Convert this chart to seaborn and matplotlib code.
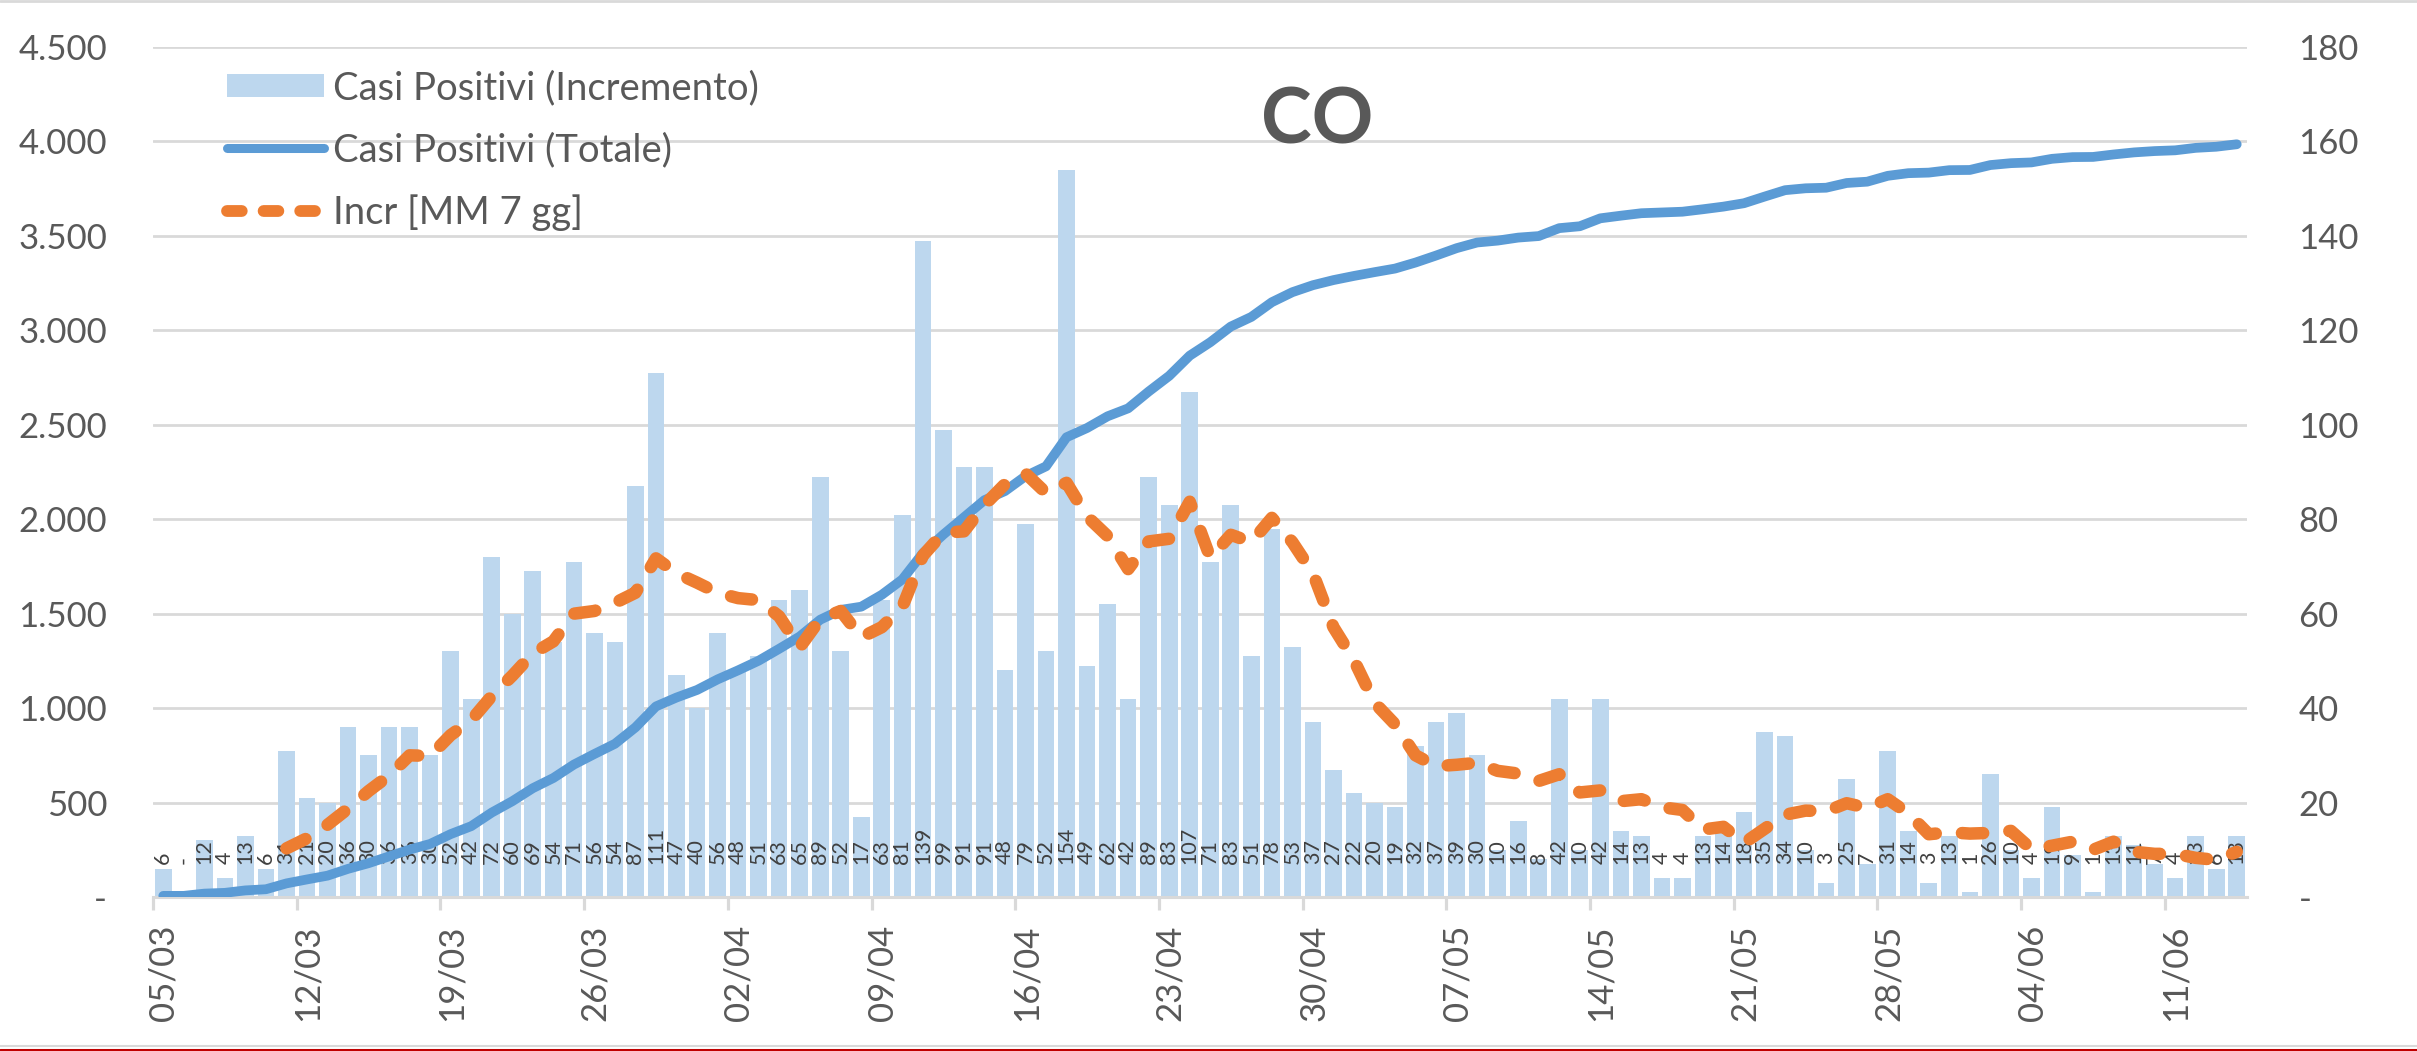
import matplotlib
matplotlib.use("Agg")
import matplotlib.pyplot as plt
import matplotlib.transforms as mtransforms
from matplotlib.lines import Line2D
from matplotlib.patches import Patch
from matplotlib.ticker import FuncFormatter
import seaborn as sns
import numpy as np

# Daily new positive cases, 05/03 -> 14/06
incremento = [
    6, 0, 12, 4, 13, 6, 31, 21, 20, 36, 30, 36, 36, 30,
    52, 42, 72, 60, 69, 54, 71,
    56, 54, 87, 111, 47, 40, 56,
    48, 51, 63, 65, 89, 52, 17,
    63, 81, 139, 99, 91, 91, 48,
    79, 52, 154, 49, 62, 42, 89,
    83, 107, 71, 83, 51, 78, 53,
    37, 27, 22, 20, 19, 32, 37,
    39, 30, 10, 16, 8, 42, 10,
    42, 14, 13, 4, 4, 13, 14,
    18, 35, 34, 10, 3, 25, 7,
    31, 14, 3, 13, 1, 26, 10,
    4, 19, 9, 1, 13, 11, 7,
    4, 13, 6, 13,
]

# Running total of positive cases
totale = [
    6, 6, 18, 22, 35, 41, 72, 93, 113, 149, 179, 215, 251, 281,
    333, 375, 447, 507, 576, 630, 701,
    757, 811, 898, 1009, 1056, 1096, 1152,
    1200, 1251, 1314, 1379, 1468, 1520, 1537,
    1600, 1681, 1820, 1919, 2010, 2101, 2149,
    2228, 2280, 2434, 2483, 2545, 2587, 2676,
    2759, 2866, 2937, 3020, 3071, 3149, 3202,
    3239, 3266, 3288, 3308, 3327, 3359, 3396,
    3435, 3465, 3475, 3491, 3499, 3541, 3551,
    3593, 3607, 3620, 3624, 3628, 3641, 3655,
    3673, 3708, 3742, 3752, 3755, 3780, 3787,
    3818, 3832, 3835, 3848, 3849, 3875, 3885,
    3889, 3908, 3917, 3918, 3931, 3942, 3949,
    3953, 3966, 3972, 3985,
]

# 7-day moving average of the daily increments (from 11/03)
media_mobile = [
    10.29, 12.43, 15.29, 18.71, 22.43, 25.71, 30.00, 29.86,
    34.29, 37.43, 42.57, 46.86, 51.57, 54.14, 60.00,
    60.57, 62.29, 64.43, 71.71, 68.57, 66.57, 64.43,
    63.29, 62.86, 59.43, 52.86, 58.86, 60.57, 55.00,
    57.14, 61.43, 72.29, 77.14, 77.43, 83.00, 87.43,
    89.71, 85.57, 87.71, 80.57, 76.43, 69.43, 75.29,
    75.86, 83.71, 71.86, 76.71, 75.14, 80.29, 75.14,
    68.57, 57.14, 50.14, 41.14, 36.57, 30.00, 27.71,
    28.00, 28.43, 26.71, 26.14, 24.57, 26.00, 22.14,
    22.57, 20.29, 20.71, 19.00, 18.43, 14.29, 14.86,
    11.43, 14.43, 17.43, 18.29, 18.14, 19.86, 18.86,
    20.71, 17.71, 13.29, 13.71, 13.43, 13.57, 14.00,
    10.14, 10.86, 11.71, 10.00, 11.71, 9.57, 9.14,
    9.14, 8.29, 7.86, 9.57,
]

date_ticks = ["05/03", "12/03", "19/03", "26/03", "02/04", "09/04", "16/04",
              "23/04", "30/04", "07/05", "14/05", "21/05", "28/05", "04/06", "11/06"]

serie = ["Casi Positivi (Incremento)", "Casi Positivi (Totale)", "Incr [MM 7 gg]"]
titolo = "CO"

BAR_C = "#BDD7EE"
TOT_C = "#5B9BD5"
MM_C = "#ED7D31"
TXT_C = "#595959"
GRID_C = "#D9D9D9"

sns.set_theme(style="white")
plt.rcParams["font.family"] = ["Lato", "DejaVu Sans"]

W, H = 2417, 1051
fig = plt.figure(figsize=(W / 100, H / 100), dpi=100)
fig.patch.set_facecolor("white")

x0, x1, y_top, y_bot = 153, 2247, 47, 897
ax = fig.add_axes([x0 / W, 1 - y_bot / H, (x1 - x0) / W, (y_bot - y_top) / H])
axL = ax.twinx()   # running total, left-hand scale
axM = ax.twinx()   # moving average, drawn on top

n = len(incremento)
giorni = np.arange(n)

# Daily bars on the right-hand scale
sns.barplot(x=giorni, y=incremento, ax=ax, color=BAR_C, saturation=1,
            width=0.81, linewidth=0, errorbar=None, zorder=2)
ax.set_ylim(0, 180)
ax.set_xlim(-0.5, n - 0.5)
ax.set_yticks(range(0, 181, 20))
ax.yaxis.tick_right()
ax.yaxis.set_label_position("right")
ax.yaxis.set_major_formatter(FuncFormatter(lambda v, p: "-" if v == 0 else f"{int(v)}"))
ax.tick_params(axis="y", which="both", left=False, right=False, labelleft=False,
               labelright=True, length=0, pad=37, labelsize=25, labelcolor=TXT_C)
for lab in ax.get_yticklabels():
    lab.set_horizontalalignment("left")
ax.grid(axis="y", color=GRID_C, linewidth=2)
ax.grid(axis="x", visible=False)
ax.set_axisbelow(True)
ax.set_xlabel("")
ax.set_ylabel("")
for s in ["top", "left", "right"]:
    ax.spines[s].set_visible(False)
ax.spines["bottom"].set_color(GRID_C)
ax.spines["bottom"].set_linewidth(2.2)

# Weekly date ticks on the bar boundaries
ax.set_xticks(np.arange(-0.5, n - 0.5, 7)[:len(date_ticks)])
ax.set_xticklabels(date_ticks, rotation=90)
ax.tick_params(axis="x", length=9, width=2.3, color=GRID_C, pad=11,
               labelsize=25, labelcolor=TXT_C, bottom=True)
shift = mtransforms.ScaledTranslation(11 / 100, 0, fig.dpi_scale_trans)
for lab in ax.get_xticklabels():
    lab.set_transform(lab.get_transform() + shift)

# Value labels at the base of each bar
for i, v in enumerate(incremento):
    ax.annotate("-" if v == 0 else str(v), xy=(i, 0), xytext=(0, 24),
                textcoords="offset points", rotation=90, ha="center", va="bottom",
                fontsize=15.5, color="#404040", zorder=3)

# Running total on the left-hand scale
sns.lineplot(x=giorni, y=totale, ax=axL, color=TOT_C, linewidth=7,
             solid_capstyle="round", legend=False)
axL.set_ylim(0, 4500)
axL.set_yticks(range(0, 4501, 500))
axL.yaxis.tick_left()
axL.yaxis.set_label_position("left")
axL.yaxis.set_major_formatter(FuncFormatter(
    lambda v, p: "-" if v == 0 else f"{int(v):,}".replace(",", ".")))
axL.tick_params(axis="y", which="both", left=False, right=False, labelleft=True,
                labelright=False, length=0, pad=33, labelsize=25, labelcolor=TXT_C)
axL.set_ylabel("")
axL.grid(False)
for s in axL.spines.values():
    s.set_visible(False)

# Moving average, right-hand scale
sns.lineplot(x=giorni[n - len(media_mobile):], y=media_mobile, ax=axM, color=MM_C,
             linewidth=9, legend=False)
axM.set_ylim(0, 180)
axM.axis("off")
mm_line = axM.lines[0]
mm_line.set_linestyle((0, (1.7, 2.1)))
mm_line.set_dash_capstyle("round")
mm_line.set_solid_capstyle("round")
ax.set_xlim(-0.5, n - 0.5)

# Title
fig.text(1317 / W, 1 - 143 / H, titolo, fontsize=55, fontweight="bold",
         ha="center", va="baseline", color=TXT_C)

# Legend
handles = [
    Patch(facecolor=BAR_C, edgecolor="none"),
    Line2D([], [], color=TOT_C, linewidth=6.5, solid_capstyle="round"),
    Line2D([], [], color=MM_C, linewidth=8.5, linestyle=(0, (1.25, 1.85)),
           dash_capstyle="round"),
]
fig.legend(handles, serie, loc="upper left", bbox_to_anchor=(227 / W, 1 - 70 / H),
           frameon=False, fontsize=27.5, handlelength=2.55, handleheight=0.55,
           handletextpad=0.22, labelspacing=0.68, borderpad=0, borderaxespad=0,
           labelcolor=TXT_C)

# Frame lines at the top and bottom edges
fig.add_artist(Line2D([0, 1], [1 - 1 / H, 1 - 1 / H], transform=fig.transFigure,
                      color=GRID_C, linewidth=2))
fig.add_artist(Line2D([0, 1], [1 - 1046 / H, 1 - 1046 / H], transform=fig.transFigure,
                      color=GRID_C, linewidth=1.5))
fig.add_artist(Line2D([0, 1], [1 - 1049.5 / H, 1 - 1049.5 / H], transform=fig.transFigure,
                      color="#C00000", linewidth=2.2))

fig.savefig("out.png", dpi=100, facecolor="white")
